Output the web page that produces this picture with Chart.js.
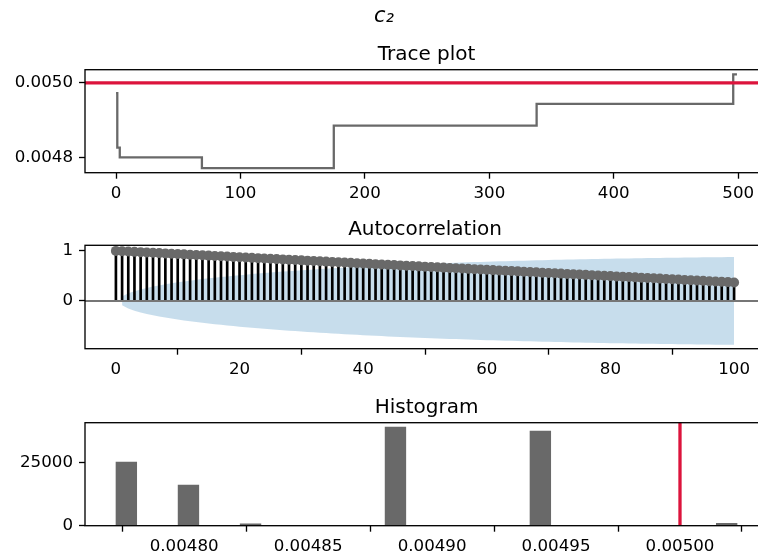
<!DOCTYPE html>
<html><head><meta charset="utf-8">
<script src="https://cdn.jsdelivr.net/npm/chart.js@4.4.1/dist/chart.umd.min.js"></script>
<style>
html,body{margin:0;padding:0;background:#fff;overflow:hidden;width:758px;height:555px;}
#wrap{position:relative;width:770px;height:555px;}
canvas{position:absolute;left:0;}
</style></head><body>
<div id="wrap">
<canvas id="c1" width="770" height="200" style="top:0px"></canvas>
<canvas id="c2" width="770" height="177" style="top:200px"></canvas>
<canvas id="c3" width="770" height="178" style="top:377px"></canvas>
</div>
<script>
// ---------------- data ----------------
const parameterName = 'c₂';
const trueValue = 0.005;

// trace: iteration where a new value starts, and that value
const traceIter  = [0, 1, 3, 69, 175, 338, 496, 499];
const traceValue = [0.004973, 0.004827, 0.004801, 0.0047725, 0.004886, 0.004944, 0.005023, 0.005023];
const traceTicksX = [0, 100, 200, 300, 400, 500];
const traceTicksY = [0.0048, 0.0050];

// autocorrelation
const acfLags = [0,1,2,3,4,5,6,7,8,9,10,11,12,13,14,15,16,17,18,19,20,21,22,23,24,25,26,27,28,29,30,
  31,32,33,34,35,36,37,38,39,40,41,42,43,44,45,46,47,48,49,50,51,52,53,54,55,56,57,58,59,60,
  61,62,63,64,65,66,67,68,69,70,71,72,73,74,75,76,77,78,79,80,81,82,83,84,85,86,87,88,89,90,
  91,92,93,94,95,96,97,98,99,100];
const acfValues = [
  1.000,0.994,0.987,0.981,0.975,0.969,0.962,0.956,0.950,0.943,
  0.937,0.931,0.924,0.918,0.912,0.906,0.899,0.893,0.887,0.880,
  0.874,0.868,0.861,0.855,0.849,0.843,0.836,0.830,0.824,0.817,
  0.811,0.805,0.798,0.792,0.786,0.780,0.773,0.767,0.761,0.754,
  0.748,0.742,0.735,0.729,0.723,0.717,0.710,0.704,0.698,0.691,
  0.685,0.679,0.672,0.666,0.660,0.654,0.647,0.641,0.635,0.628,
  0.622,0.616,0.609,0.603,0.597,0.591,0.584,0.578,0.572,0.565,
  0.559,0.553,0.546,0.540,0.534,0.528,0.521,0.515,0.509,0.502,
  0.496,0.490,0.483,0.477,0.471,0.465,0.458,0.452,0.446,0.439,
  0.433,0.427,0.420,0.414,0.408,0.402,0.395,0.389,0.383,0.376,
  0.370];
// confidence band half-width for lags 1..100
const bandHalf = [
  0.088,0.151,0.195,0.229,0.259,0.286,0.310,0.332,0.352,0.371,
  0.389,0.405,0.421,0.436,0.451,0.464,0.478,0.490,0.502,0.514,
  0.525,0.536,0.547,0.557,0.567,0.576,0.586,0.595,0.603,0.612,
  0.620,0.628,0.636,0.643,0.651,0.658,0.665,0.671,0.678,0.684,
  0.691,0.697,0.703,0.709,0.714,0.720,0.725,0.730,0.735,0.740,
  0.745,0.750,0.755,0.759,0.763,0.768,0.772,0.776,0.780,0.784,
  0.788,0.791,0.795,0.798,0.802,0.805,0.808,0.812,0.815,0.818,
  0.821,0.823,0.826,0.829,0.832,0.834,0.837,0.839,0.841,0.844,
  0.846,0.848,0.850,0.852,0.854,0.856,0.858,0.860,0.862,0.863,
  0.865,0.867,0.868,0.870,0.871,0.873,0.874,0.875,0.877,0.878];
const acfTicksX = [0, 20, 40, 60, 80, 100];
const acfTicksY = [0, 1];

// histogram
const binCenters = [
  0.00477668,0.00478503,0.00479338,0.00480173,0.00481008,0.00481843,0.00482678,0.00483513,0.00484348,0.00485183,
  0.00486018,0.00486853,0.00487688,0.00488523,0.00489358,0.00490193,0.00491028,0.00491863,0.00492698,0.00493533,
  0.00494368,0.00495203,0.00496038,0.00496873,0.00497708,0.00498543,0.00499378,0.00500213,0.00501048,0.00501883];
const binCounts = [
  25270,0,0,16150,0,0,700,0,0,0,
  0,0,0,39200,0,0,0,0,0,0,
  37580,0,0,0,0,0,0,0,0,950];
const histTicksX = [0.00480, 0.00485, 0.00490, 0.00495, 0.00500];
const histTicksY = [0, 25000];

// ---------------- styling helpers ----------------
const FONT = 'DejaVu Sans';
Chart.defaults.font.family = FONT;
Chart.defaults.font.size = 16.67;
Chart.defaults.color = '#000';
const GRAY = '#696969';
const RED = '#DC143C';

function axis(min, max, tickList, fmt, fitSize, isY) {
  return {
    type: 'linear', min, max, offset: false,
    grid: { display: true, drawOnChartArea: false, drawTicks: true, tickLength: 6, tickWidth: 1.33, tickColor: '#000' },
    border: { display: false },
    ticks: { color: '#000', padding: isY ? 6 : 5, font: { size: 16.67, family: FONT }, maxRotation: 0, autoSkip: false,
      callback: (v) => fmt(v) },
    afterBuildTicks: (s) => { s.ticks = tickList.map(v => ({ value: v })); },
    afterFit: (s) => { if (isY) s.width = fitSize; else s.height = fitSize; }
  };
}

const framePlugin = { id: 'frame', afterDraw(chart) {
  const { ctx, chartArea: a } = chart;
  ctx.save(); ctx.strokeStyle = '#000'; ctx.lineWidth = 1.33;
  ctx.strokeRect(a.left, a.top, a.right - a.left, a.bottom - a.top); ctx.restore();
}};
function titleCfg(text, padTop, padBottom, fullSize) {
  return { display: true, text, fullSize, color: '#000',
    font: { size: 20, weight: 'normal', family: FONT }, padding: { top: padTop, bottom: padBottom } };
}
const common = { responsive: false, devicePixelRatio: 1, animation: false,
  layout: { padding: { left: 0, right: 2, top: 0, bottom: 0 } } };

// ---------------- Trace plot ----------------
const hLinePlugin = { id: 'hline', afterDatasetsDraw(chart) {
  const { ctx, chartArea: a, scales } = chart;
  const y = scales.y.getPixelForValue(trueValue);
  ctx.save(); ctx.strokeStyle = RED; ctx.lineWidth = 3.3;
  ctx.beginPath(); ctx.moveTo(a.left, y); ctx.lineTo(a.right, y); ctx.stroke(); ctx.restore();
}};
new Chart(document.getElementById('c1'), {
  type: 'line',
  data: { datasets: [{
    data: traceIter.map((x, i) => ({ x, y: traceValue[i] })),
    stepped: 'before', borderColor: GRAY, borderWidth: 2.3, pointRadius: 0, fill: false
  }]},
  options: Object.assign({}, common, {
    plugins: { legend: { display: false }, tooltip: { enabled: false },
      title: { display: true, text: parameterName, color: '#000', fullSize: true,
        font: { size: 21, style: 'italic', weight: 'normal', family: FONT }, padding: { top: 3.8, bottom: 0 } },
      subtitle: titleCfg('Trace plot', 13.3, 3.4, false) },
    scales: {
      x: axis(-24.95, 523.95, traceTicksX, v => String(v), 27.3, false),
      y: axis(0.00476, 0.0050355, traceTicksY, v => v.toFixed(4), 85, true)
    }
  }),
  plugins: [hLinePlugin, framePlugin]
});

// ---------------- Autocorrelation ----------------
const zeroLinePlugin = { id: 'zeroline', afterDatasetsDraw(chart) {
  const { ctx, chartArea: a, scales } = chart;
  const y = scales.y.getPixelForValue(0);
  ctx.save(); ctx.strokeStyle = '#767676'; ctx.lineWidth = 2;
  ctx.beginPath(); ctx.moveTo(a.left, y); ctx.lineTo(a.right, y); ctx.stroke(); ctx.restore();
}};
const bandLags = acfLags.slice(1);
new Chart(document.getElementById('c2'), {
  type: 'bar',
  data: { datasets: [
    { type: 'line', data: acfLags.map((x, i) => ({ x, y: acfValues[i] })), showLine: false,
      pointRadius: 5, pointBackgroundColor: GRAY, pointBorderWidth: 0, order: 1 },
    { type: 'bar', data: acfLags.map((x, i) => ({ x, y: acfValues[i] })), backgroundColor: '#000',
      barThickness: 2, borderWidth: 0, order: 2 },
    { type: 'line', data: bandLags.map((x, i) => ({ x, y: bandHalf[i] })), borderWidth: 0, pointRadius: 0,
      fill: '+1', backgroundColor: 'rgba(31,119,180,0.25)', borderColor: 'rgba(0,0,0,0)', order: 3 },
    { type: 'line', data: bandLags.map((x, i) => ({ x, y: -bandHalf[i] })), borderWidth: 0, pointRadius: 0,
      fill: false, borderColor: 'rgba(0,0,0,0)', order: 4 }
  ]},
  options: Object.assign({}, common, {
    plugins: { legend: { display: false }, tooltip: { enabled: false },
      title: titleCfg('Autocorrelation', 17.9, 3.4, false) },
    scales: {
      x: axis(-5, 105, acfTicksX, v => String(v), 28.3, false),
      y: axis(-0.955, 1.112, acfTicksY, v => String(v), 85, true)
    }
  }),
  plugins: [zeroLinePlugin, framePlugin]
});

// ---------------- Histogram ----------------
const vLinePlugin = { id: 'vline', afterDatasetsDraw(chart) {
  const { ctx, chartArea: a, scales } = chart;
  const x = scales.x.getPixelForValue(trueValue);
  ctx.save(); ctx.strokeStyle = RED; ctx.lineWidth = 3.3;
  ctx.beginPath(); ctx.moveTo(x, a.top); ctx.lineTo(x, a.bottom); ctx.stroke(); ctx.restore();
}};
new Chart(document.getElementById('c3'), {
  type: 'bar',
  data: { datasets: [{
    data: binCenters.map((x, i) => ({ x, y: binCounts[i] })),
    backgroundColor: GRAY, borderWidth: 0, barPercentage: 1, categoryPercentage: 1
  }]},
  options: Object.assign({}, common, {
    plugins: { legend: { display: false }, tooltip: { enabled: false },
      title: titleCfg('Histogram', 18.3, 3.4, false) },
    scales: {
      x: axis(0.00476, 0.0050355, histTicksX, v => v.toFixed(5), 29.3, false),
      y: axis(0, 40900, histTicksY, v => String(v), 85, true)
    }
  }),
  plugins: [vLinePlugin, framePlugin]
});
</script>
</body></html>
